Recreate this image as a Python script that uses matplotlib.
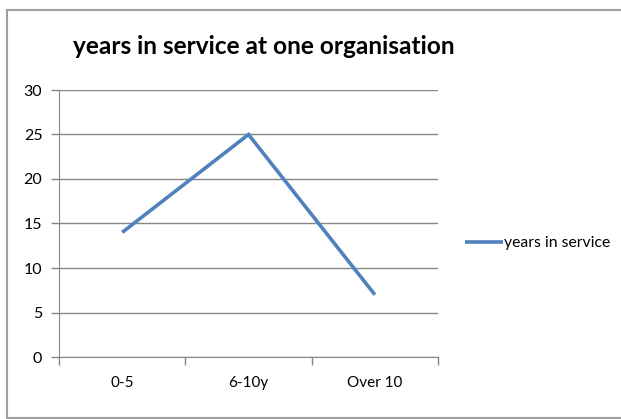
import matplotlib
matplotlib.use("Agg")
import matplotlib.pyplot as plt
from matplotlib.lines import Line2D

categories = ["0-5", "6-10y", "Over 10"]
values = [14, 25, 7]
series_name = "years in service"
title = "years in service at one organisation"
yticks = [0, 5, 10, 15, 20, 25, 30]

W, H = 621, 419
plt.rcParams['font.family'] = ['Lato', 'DejaVu Sans']
fig = plt.figure(figsize=(W / 100, H / 100), dpi=100)

# outer chart frame (top, left, bottom; right edge cut off)
fc = "#a0a0a0"
fig.add_artist(Line2D([7 / W, 1.0], [1 - 10 / H, 1 - 10 / H], transform=fig.transFigure, color=fc, lw=1.5))
fig.add_artist(Line2D([7 / W, 7 / W], [1 - 10 / H, 1 - 418 / H], transform=fig.transFigure, color=fc, lw=1.5))
fig.add_artist(Line2D([7 / W, 1.0], [1 - 418 / H, 1 - 418 / H], transform=fig.transFigure, color=fc, lw=1.5))

left, right, top, bottom = 59, 438, 90, 357
ax = fig.add_axes([left / W, 1 - bottom / H, (right - left) / W, (bottom - top) / H])

x = list(range(len(categories)))
ax.plot(x, values, color="#4F81BD", lw=2.6, label=series_name, solid_capstyle="butt", solid_joinstyle="miter")
ax.set_xlim(-0.5, len(categories) - 0.5)
ax.set_ylim(0, 30)
ax.set_yticks(yticks)
ax.set_xticks(x)
ax.set_xticklabels(categories)
ax.set_xticks([i - 0.5 for i in range(len(categories) + 1)], minor=True)
ax.tick_params(axis="x", which="major", length=0, pad=14, labelsize=11, colors="#000000")
ax.tick_params(axis="x", which="minor", length=6, direction="out", color="#868686", width=1)
ax.tick_params(axis="y", length=6, direction="out", color="#868686", width=1, labelsize=11.5, pad=6)
for lbl in ax.get_yticklabels():
    lbl.set_color("#000000")
ax.grid(axis="y", color="#868686", lw=1)
ax.set_axisbelow(True)
for s in ["top", "right"]:
    ax.spines[s].set_visible(False)
ax.spines["left"].set_color("#868686")
ax.spines["bottom"].set_color("#868686")

fig.text(264 / W, 1 - 47 / H, title, ha="center", va="center", fontsize=17.6, fontweight="bold")

fig.legend(loc="center left", bbox_to_anchor=(459 / W, 1 - 243 / H), frameon=False,
           fontsize=11.3, handlelength=2.4, handletextpad=0.05, borderaxespad=0)

fig.savefig("out.png", dpi=100)
